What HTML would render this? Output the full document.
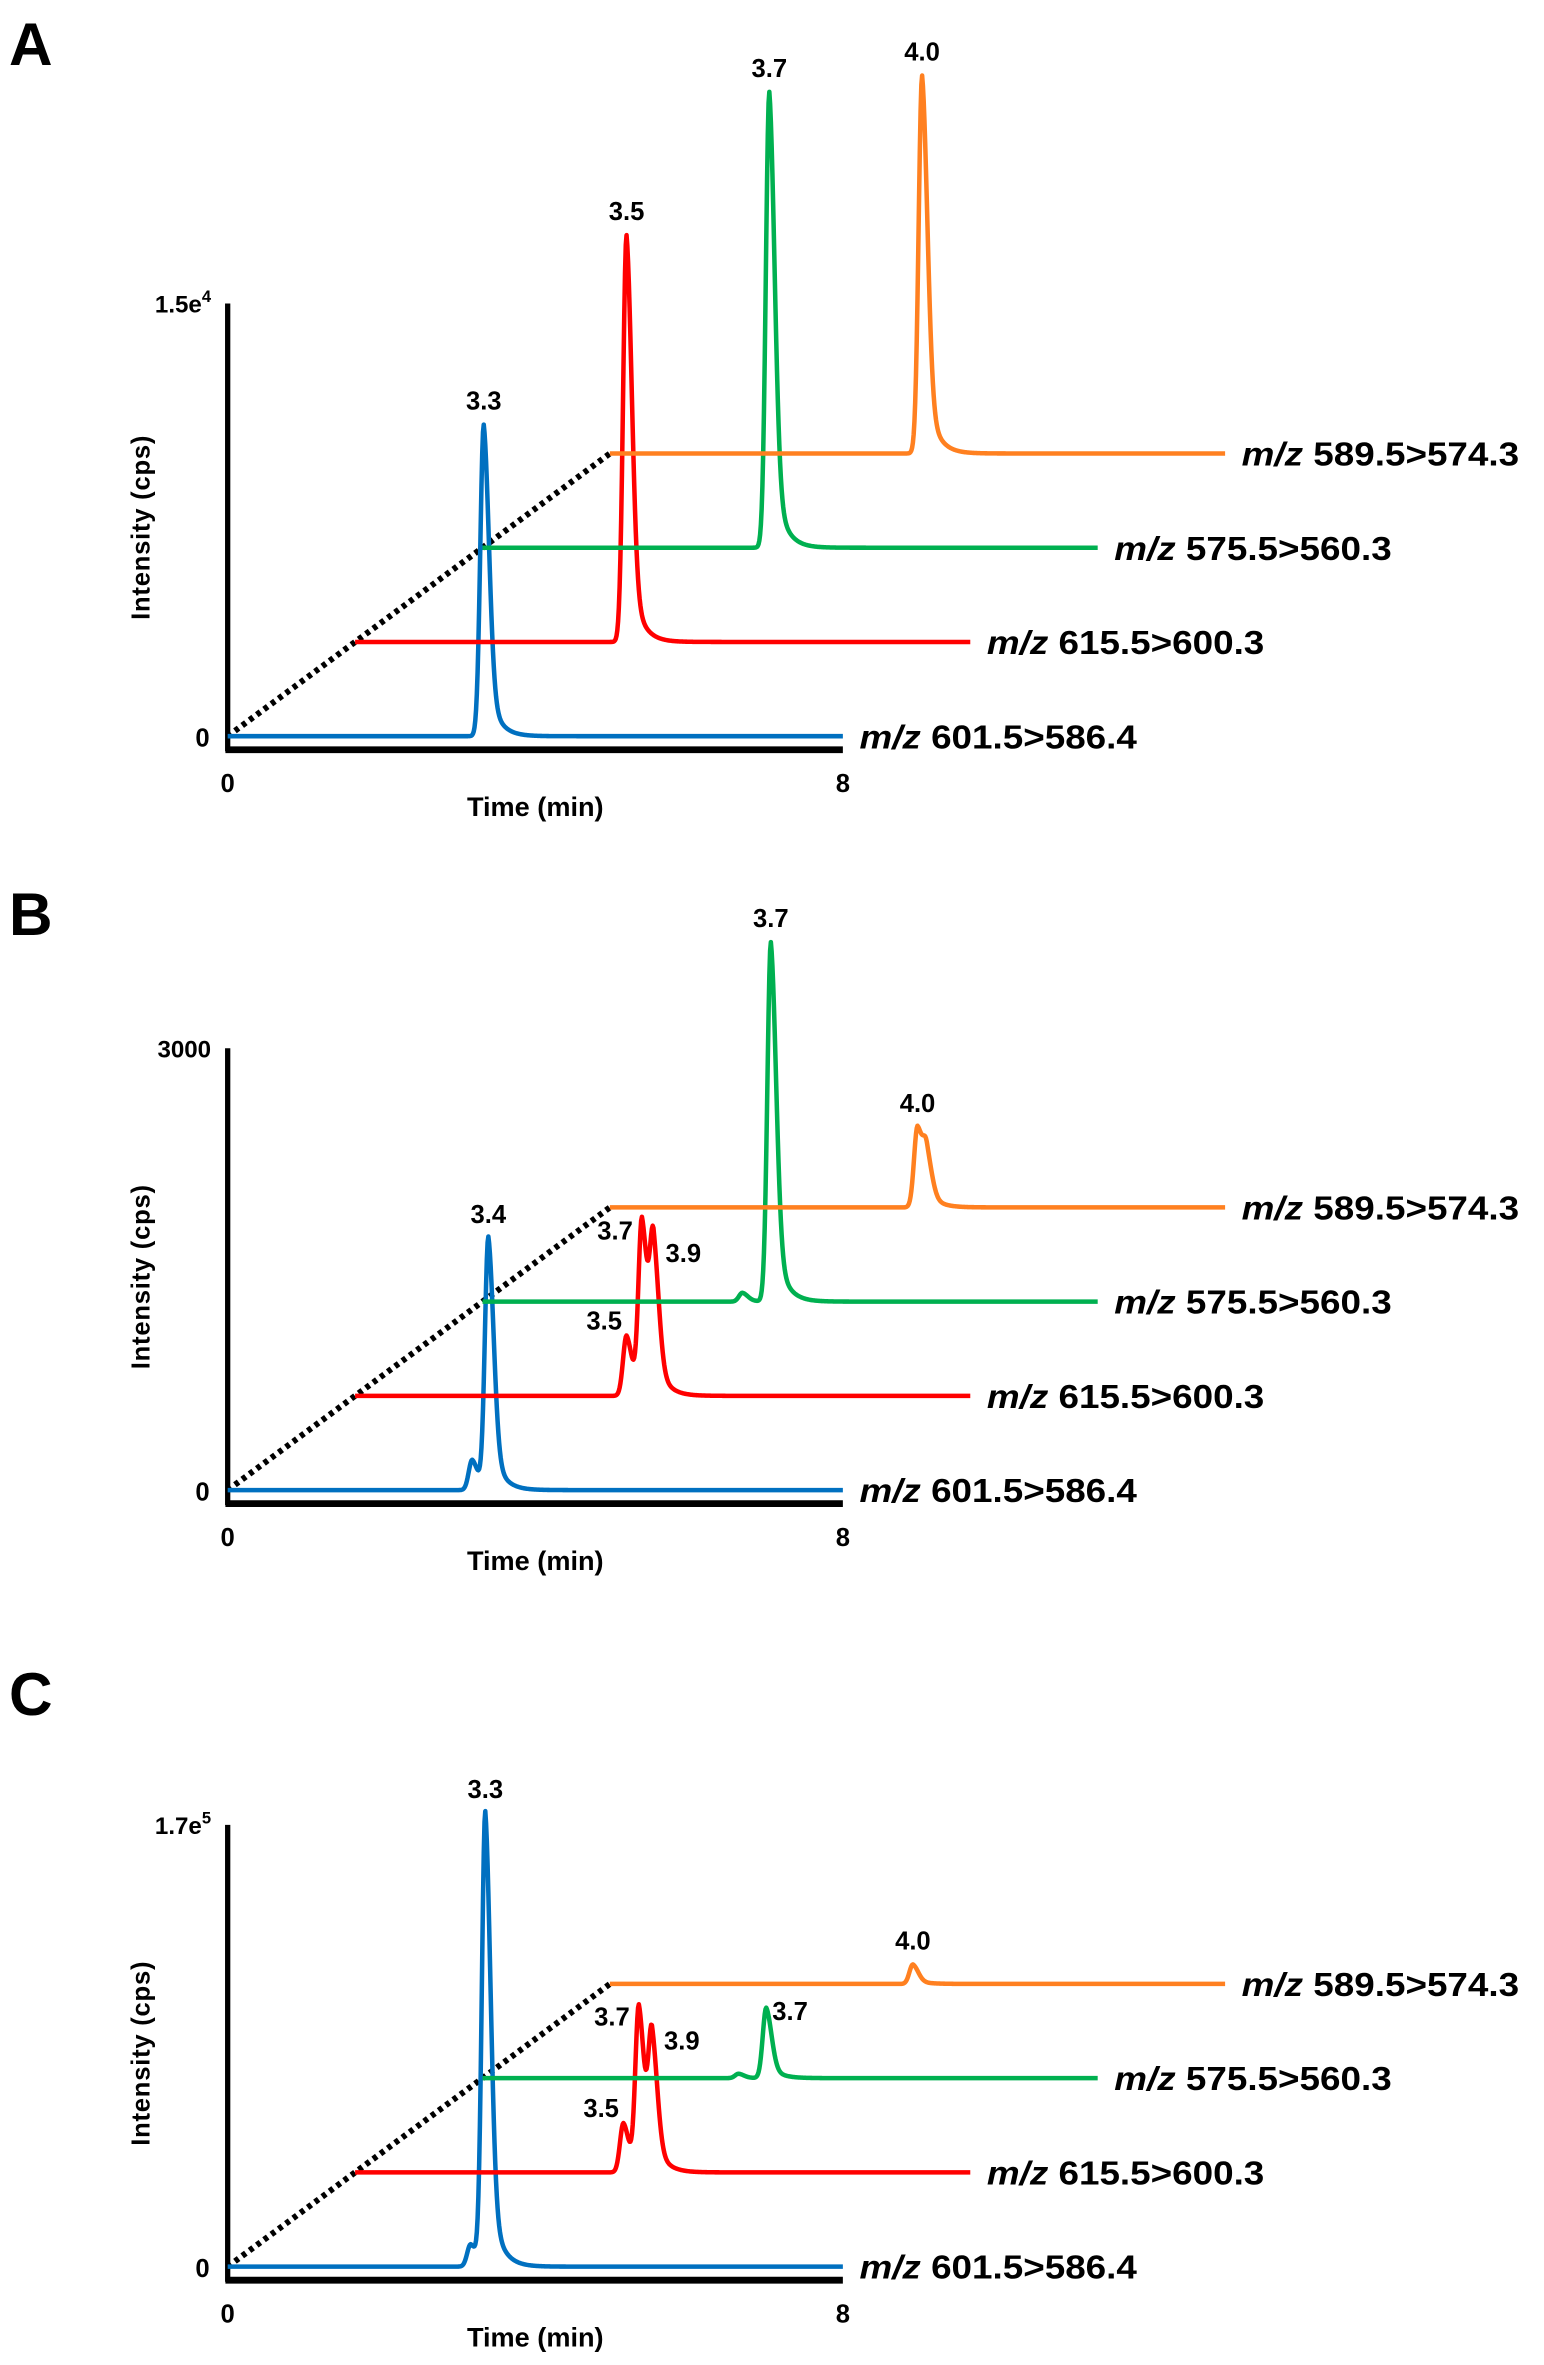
<!DOCTYPE html>
<html><head><meta charset="utf-8"><title>Chromatograms</title>
<style>
html,body{margin:0;padding:0;background:#fff;}
svg{display:block;}
text{font-family:"Liberation Sans",Arial,sans-serif;}
</style></head>
<body>
<svg id="fig" width="1544" height="2365" viewBox="0 0 1024 1568" xmlns="http://www.w3.org/2000/svg"></svg>
<script>
// ---- Data ----
const seriesLabels = ["601.5>586.4", "615.5>600.3", "575.5>560.3", "589.5>574.3"];
const seriesColors = ["#0070c0", "#ff0000", "#00b050", "#ff8020"];
const panelLetters = ["A", "B", "C"];
const yMaxValues = [15000, 3000, 170000];
const yTopLabels = ["1.5e4", "3000", "1.7e5"];
// peaks per panel per series: [time(min), height]
const peaksA = [
  [[3.33, 10800]],
  [[3.53, 14100]],
  [[3.73, 15800]],
  [[4.06, 13100]]
];
const peaksB = [
  [[3.18, 206], [3.39, 1710]],
  [[3.53, 410], [3.73, 1185], [3.88, 950]],
  [[3.38, 60], [3.75, 2440]],
  [[4.0, 546], [4.12, 300]]
];
const peaksC = [
  [[3.16, 8600], [3.35, 174600]],
  [[3.49, 19000], [3.69, 63400], [3.86, 49600]],
  [[3.33, 1700], [3.69, 27100]],
  [[3.94, 7500]]
];
const peakLabelsA = [["3.3"], ["3.5"], ["3.7"], ["4.0"]];
const peakLabelsB = [["", "3.4"], ["3.5", "3.7", "3.9"], ["", "3.7"], ["4.0", ""]];
const peakLabelsC = [["", "3.3"], ["3.5", "3.7", "3.9"], ["", "3.7"], ["4.0"]];
const timeTicks = [0, 8];

const NS = "http://www.w3.org/2000/svg";
const svg = document.getElementById("fig");
function el(tag, attrs, parent) {
  const e = document.createElementNS(NS, tag);
  for (const k in attrs) e.setAttribute(k, attrs[k]);
  (parent || svg).appendChild(e);
  return e;
}

const panels = [
  {peaks: peaksA, labels: peakLabelsA, top: 201, zero: 488, letterY: 43},
  {peaks: peaksB, labels: peakLabelsB, top: 695, zero: 988, letterY: 620},
  {peaks: peaksC, labels: peakLabelsC, top: 1210, zero: 1503, letterY: 1137}
];
const X0 = 151, X1 = 559, DX = 84.5, DY = -62.5;

function peakShape(t, c, h) {
  const d = t - c;
  if (d < 0) return h * Math.exp(-d*d/(2*0.045*0.045));
  return h * (0.75*Math.exp(-d*d/(2*0.07*0.07)) + 0.25*Math.exp(-d/0.13));
}

panels.forEach((p, pi) => {
  const g = el("g", {});
  
  
  const xScale = t => X0 + (X1 - X0) * t / 8;
  const yScale = v => p.zero - (p.zero - p.top) * v / yMaxValues[pi];

  const letter = el("text", {x: 6, y: p.letterY, "font-size": 40, "font-weight": "bold"}, g);
  letter.textContent = panelLetters[pi];
  
  

  const ya = el("line", {x1: X0, y1: p.top, x2: X0, y2: p.zero + 10, stroke: "#000", "stroke-width": 3.5}, g);
  
  
  const xa = el("line", {x1: X0 - 1.5, y1: p.zero + 9, x2: X1, y2: p.zero + 9, stroke: "#000", "stroke-width": 4.5}, g);
  
  

  const yt = el("text", {x: X0 - 11, y: p.top + 6, "font-size": 16, "font-weight": "bold", "text-anchor": "end"}, g);
  if (yTopLabels[pi].includes("e")) {
    const parts = yTopLabels[pi].split("e");
    yt.innerHTML = parts[0] + 'e<tspan dy="-7" font-size="11">' + parts[1] + '</tspan>';
  } else { yt.textContent = yTopLabels[pi]; }
  
  
  const y0 = el("text", {x: X0 - 12, y: p.zero + 7, "font-size": 17, "font-weight": "bold", "text-anchor": "end"}, g);
  y0.textContent = "0";
  
  
  timeTicks.forEach(t => {
    const tt = el("text", {x: xScale(t), y: p.zero + 37, "font-size": 17, "font-weight": "bold", "text-anchor": "middle"}, g);
    tt.textContent = String(t);
    
    
  });
  const xt = el("text", {x: 355, y: p.zero + 53, "font-size": 18, "font-weight": "bold", "text-anchor": "middle"}, g);
  xt.textContent = "Time (min)";
  
  
  const ymid = (p.top + p.zero) / 2 + 5;
  const ytl = el("text", {x: 0, y: 0, "font-size": 17, "font-weight": "bold", "text-anchor": "middle", "letter-spacing": "0.5", transform: "translate(99," + ymid + ") rotate(-90)"}, g);
  ytl.textContent = "Intensity (cps)";
  
  

  const dl = el("line", {x1: X0, y1: p.zero, x2: X0 + 3*DX, y2: p.zero + 3*DY, stroke: "#000", "stroke-width": 4, "stroke-dasharray": "3,3"}, g);
  
  

  for (let s = 0; s < 4; s++) {
    const ox = s * DX, oy = s * DY;
    const pk = p.peaks[s];
    let d = "";
    for (let i = 0; i <= 800; i++) {
      const t = 8 * i / 800;
      let v = 0;
      pk.forEach(q => { v += peakShape(t, q[0], q[1]); });
      d += (i ? "L" : "M") + (xScale(t) + ox).toFixed(2) + "," + (yScale(v) + oy).toFixed(2);
    }
    const path = el("path", {d: d, fill: "none", stroke: seriesColors[s], "stroke-width": 3, "stroke-linejoin": "round"}, g);
    
    

    pk.forEach((q, qi) => {
      const lab = p.labels[s][qi];
      if (!lab) return;
      let lx = xScale(q[0]) + ox, ly = yScale(q[1]) + oy - 10, anchor = "middle";
      if (s === 1 && pk.length === 3) {
        if (qi === 0) { lx -= 3; ly = yScale(q[1]) + oy - 4; anchor = "end"; }
        if (qi === 1) { lx -= 6; ly = yScale(q[1]) + oy + 12; anchor = "end"; }
        if (qi === 2) { lx += 8; ly = yScale(q[1]) + oy + 4; anchor = "start"; }
      }
      if (pi === 2 && s === 2) { lx += 4; ly = yScale(q[1]) + oy + 8; anchor = "start"; }
      const pl = el("text", {x: lx, y: ly, "font-size": 17, "font-weight": "bold", "text-anchor": anchor}, g);
      pl.textContent = lab;
      
      
    });

    const sl = el("text", {x: X1 + ox + 11, y: p.zero + oy + 8, "font-size": 22, "font-weight": "bold", textLength: 184, lengthAdjust: "spacingAndGlyphs"}, g);
    sl.innerHTML = '<tspan font-style="italic">m/z</tspan> ' + seriesLabels[s];
    
    
  }
});
</script>
</body></html>
